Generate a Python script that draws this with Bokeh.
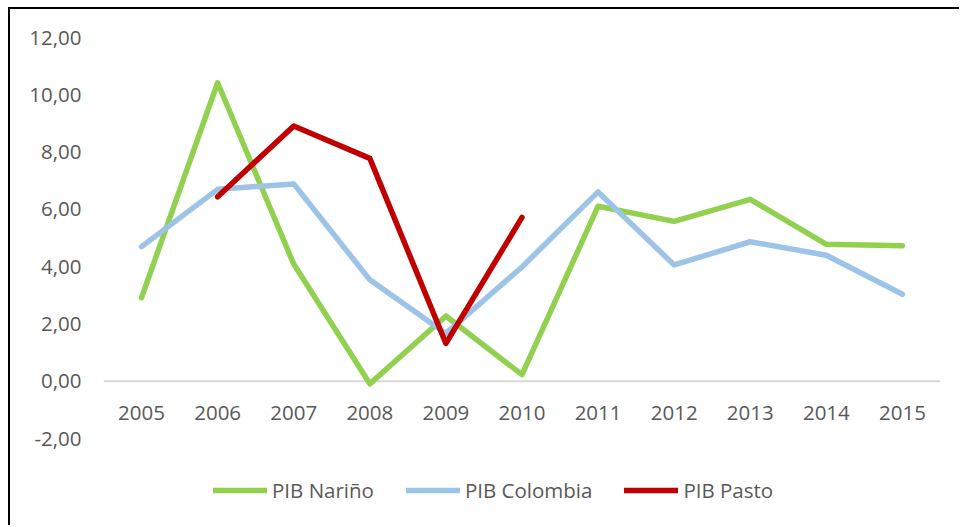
import numpy as np
from bokeh.plotting import figure
from bokeh.models import ColumnDataSource, FactorRange, Range1d, FixedTicker, Span, Legend, LegendItem
from bokeh.embed import file_html
from bokeh.resources import INLINE

years = ["2005", "2006", "2007", "2008", "2009", "2010", "2011", "2012", "2013", "2014", "2015"]
pib_narino = [2.92, 10.42, 4.09, -0.09, 2.28, 0.23, 6.11, 5.58, 6.35, 4.78, 4.73]
pib_colombia = [4.70, 6.70, 6.89, 3.54, 1.67, 3.99, 6.61, 4.06, 4.87, 4.40, 3.04]
pib_pasto = [np.nan, 6.44, 8.91, 7.78, 1.32, 5.72, np.nan, np.nan, np.nan, np.nan, np.nan]
y_ticks = [-2, 0, 2, 4, 6, 8, 10, 12]
y_tick_labels = ["-2,00", "0,00", "2,00", "4,00", "6,00", "8,00", "10,00", "12,00"]

series_names = ["PIB Nariño", "PIB Colombia", "PIB Pasto"]
series_colors = ["#92D050", "#9DC3E6", "#C00000"]

FONT = "Open Sans"
FS = "20.5px"
TXT = "#595959"

src = ColumnDataSource(dict(x=years, n=np.array(pib_narino, dtype=float),
                            c=np.array(pib_colombia, dtype=float),
                            p=np.array(pib_pasto, dtype=float)))

# the plot frame extends below the last tick so that the legend sits inside it
p = figure(width=951, height=518, x_range=FactorRange(*years, range_padding=0),
           y_range=Range1d(-5, 12), output_backend="svg", toolbar_location=None,
           min_border_left=93, min_border_right=21, min_border_top=28, min_border_bottom=3)
p.styles = {"margin-left": "8px", "margin-top": "7px",
            "border-left": "2px solid black", "border-top": "2px solid black"}
p.outline_line_color = None
p.xgrid.visible = False
p.ygrid.visible = False

p.add_layout(Span(location=0, dimension="width", line_color="#D9D9D9", line_width=2, level="underlay"))

renderers = []
for col, name, color in zip(["n", "c", "p"], series_names, series_colors):
    r = p.line("x", col, source=src, line_color=color, line_width=5.5,
               line_cap="round", line_join="round")
    renderers.append(r)

# x axis drawn at zero
xa = p.xaxis[0]
xa.fixed_location = 0
xa.axis_line_color = None
xa.major_tick_line_color = None
xa.minor_tick_line_color = None
xa.major_tick_out = 0
xa.major_label_standoff = 25
xa.major_label_text_font = FONT
xa.major_label_text_font_size = FS
xa.major_label_text_color = TXT

ya = p.yaxis[0]
ya.ticker = FixedTicker(ticks=y_ticks)
ya.major_label_overrides = {t: l for t, l in zip(y_ticks, y_tick_labels)}
ya.axis_line_color = None
ya.major_tick_line_color = None
ya.minor_tick_line_color = None
ya.major_tick_out = 0
ya.major_label_standoff = 22
ya.major_label_text_font = FONT
ya.major_label_text_font_size = FS
ya.major_label_text_color = TXT

legend = Legend(items=[LegendItem(label=n, renderers=[r]) for n, r in zip(series_names, renderers)],
                orientation="horizontal", location=(110, 20), glyph_width=54, glyph_height=20,
                label_standoff=5, spacing=32, padding=0, margin=0,
                label_text_font=FONT, label_text_font_size=FS, label_text_color=TXT,
                border_line_color=None, background_fill_alpha=0)
p.add_layout(legend, "center")

open("out.html", "w").write(file_html(p, INLINE))
